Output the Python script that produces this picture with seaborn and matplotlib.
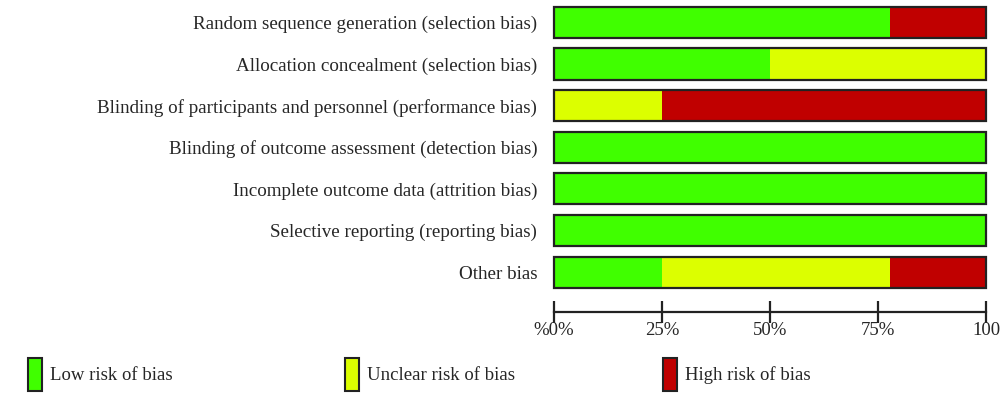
import numpy as np
import pandas as pd
import matplotlib
matplotlib.use("Agg")
import matplotlib.pyplot as plt
import matplotlib.patches as mpatches
import seaborn as sns

# Risk of bias data (percent of studies)
domains = [
    "Random sequence generation (selection bias)",
    "Allocation concealment (selection bias)",
    "Blinding of participants and personnel (performance bias)",
    "Blinding of outcome assessment (detection bias)",
    "Incomplete outcome data (attrition bias)",
    "Selective reporting (reporting bias)",
    "Other bias",
]
low = [77.8, 50, 0, 100, 100, 100, 25]
unclear = [0, 50, 25, 0, 0, 0, 52.8]
high = [22.2, 0, 75, 0, 0, 0, 22.2]

tick_vals = [0, 25, 50, 75, 100]
tick_labels = ["%0%", "25%", "50%", "75%", "100"]

GREEN = "#40ff00"
YELLOW = "#dcff00"
RED = "#c00000"
EDGE = "#222222"

df = pd.DataFrame({"Domain": domains, "Low": low, "Unclear": unclear, "High": high})
df["cum_low"] = df["Low"]
df["cum_unclear"] = df["Low"] + df["Unclear"]
df["cum_high"] = df["Low"] + df["Unclear"] + df["High"]

sns.set_style("white")
plt.rcParams["font.family"] = ["Liberation Serif", "DejaVu Serif"]

fig = plt.figure(figsize=(10, 3.94), dpi=100)
ax = fig.add_axes([0.554, 0.208, 0.432, 0.792])

# stacked bars drawn as layered cumulative bars
for col, c in [("cum_high", RED), ("cum_unclear", YELLOW), ("cum_low", GREEN)]:
    sns.barplot(data=df, x=col, y="Domain", orient="h", color=c,
                width=0.75, linewidth=0, saturation=1, ax=ax)
# outline around each full bar
sns.barplot(data=df, x="cum_high", y="Domain", orient="h", fill=False,
            color=EDGE, width=0.75, linewidth=1.6, ax=ax)
for p in ax.patches:
    p.set_clip_on(False)

ax.set_xlim(0, 100)
ax.set_ylim(6.96, -0.54)
ax.set_xlabel("")
ax.set_ylabel("")
ax.set_xticks(tick_vals)
ax.set_xticklabels(tick_labels, fontsize=13.5)
ax.tick_params(axis="x", bottom=True, direction="inout", length=16, width=1.6,
               color=EDGE, pad=-1)
ax.tick_params(axis="y", length=0, pad=12, labelsize=13.7)
for s in ["top", "left", "right"]:
    ax.spines[s].set_visible(False)
ax.spines["bottom"].set_linewidth(1.6)
ax.spines["bottom"].set_color(EDGE)

# legend: three separate entries spread across the bottom
legend_items = [("Low risk of bias", GREEN, 0.028), ("Unclear risk of bias", YELLOW, 0.345),
                ("High risk of bias", RED, 0.663)]
for label, c, xpos in legend_items:
    h = mpatches.Patch(facecolor=c, edgecolor=EDGE, linewidth=1.5, label=label)
    fig.legend(handles=[h], loc="center left", bbox_to_anchor=(xpos, 0.05),
               frameon=False, fontsize=13.5, handlelength=0.75, handleheight=2.3,
               handletextpad=0.4, borderpad=0, borderaxespad=0)

fig.savefig("out.png", dpi=100)
